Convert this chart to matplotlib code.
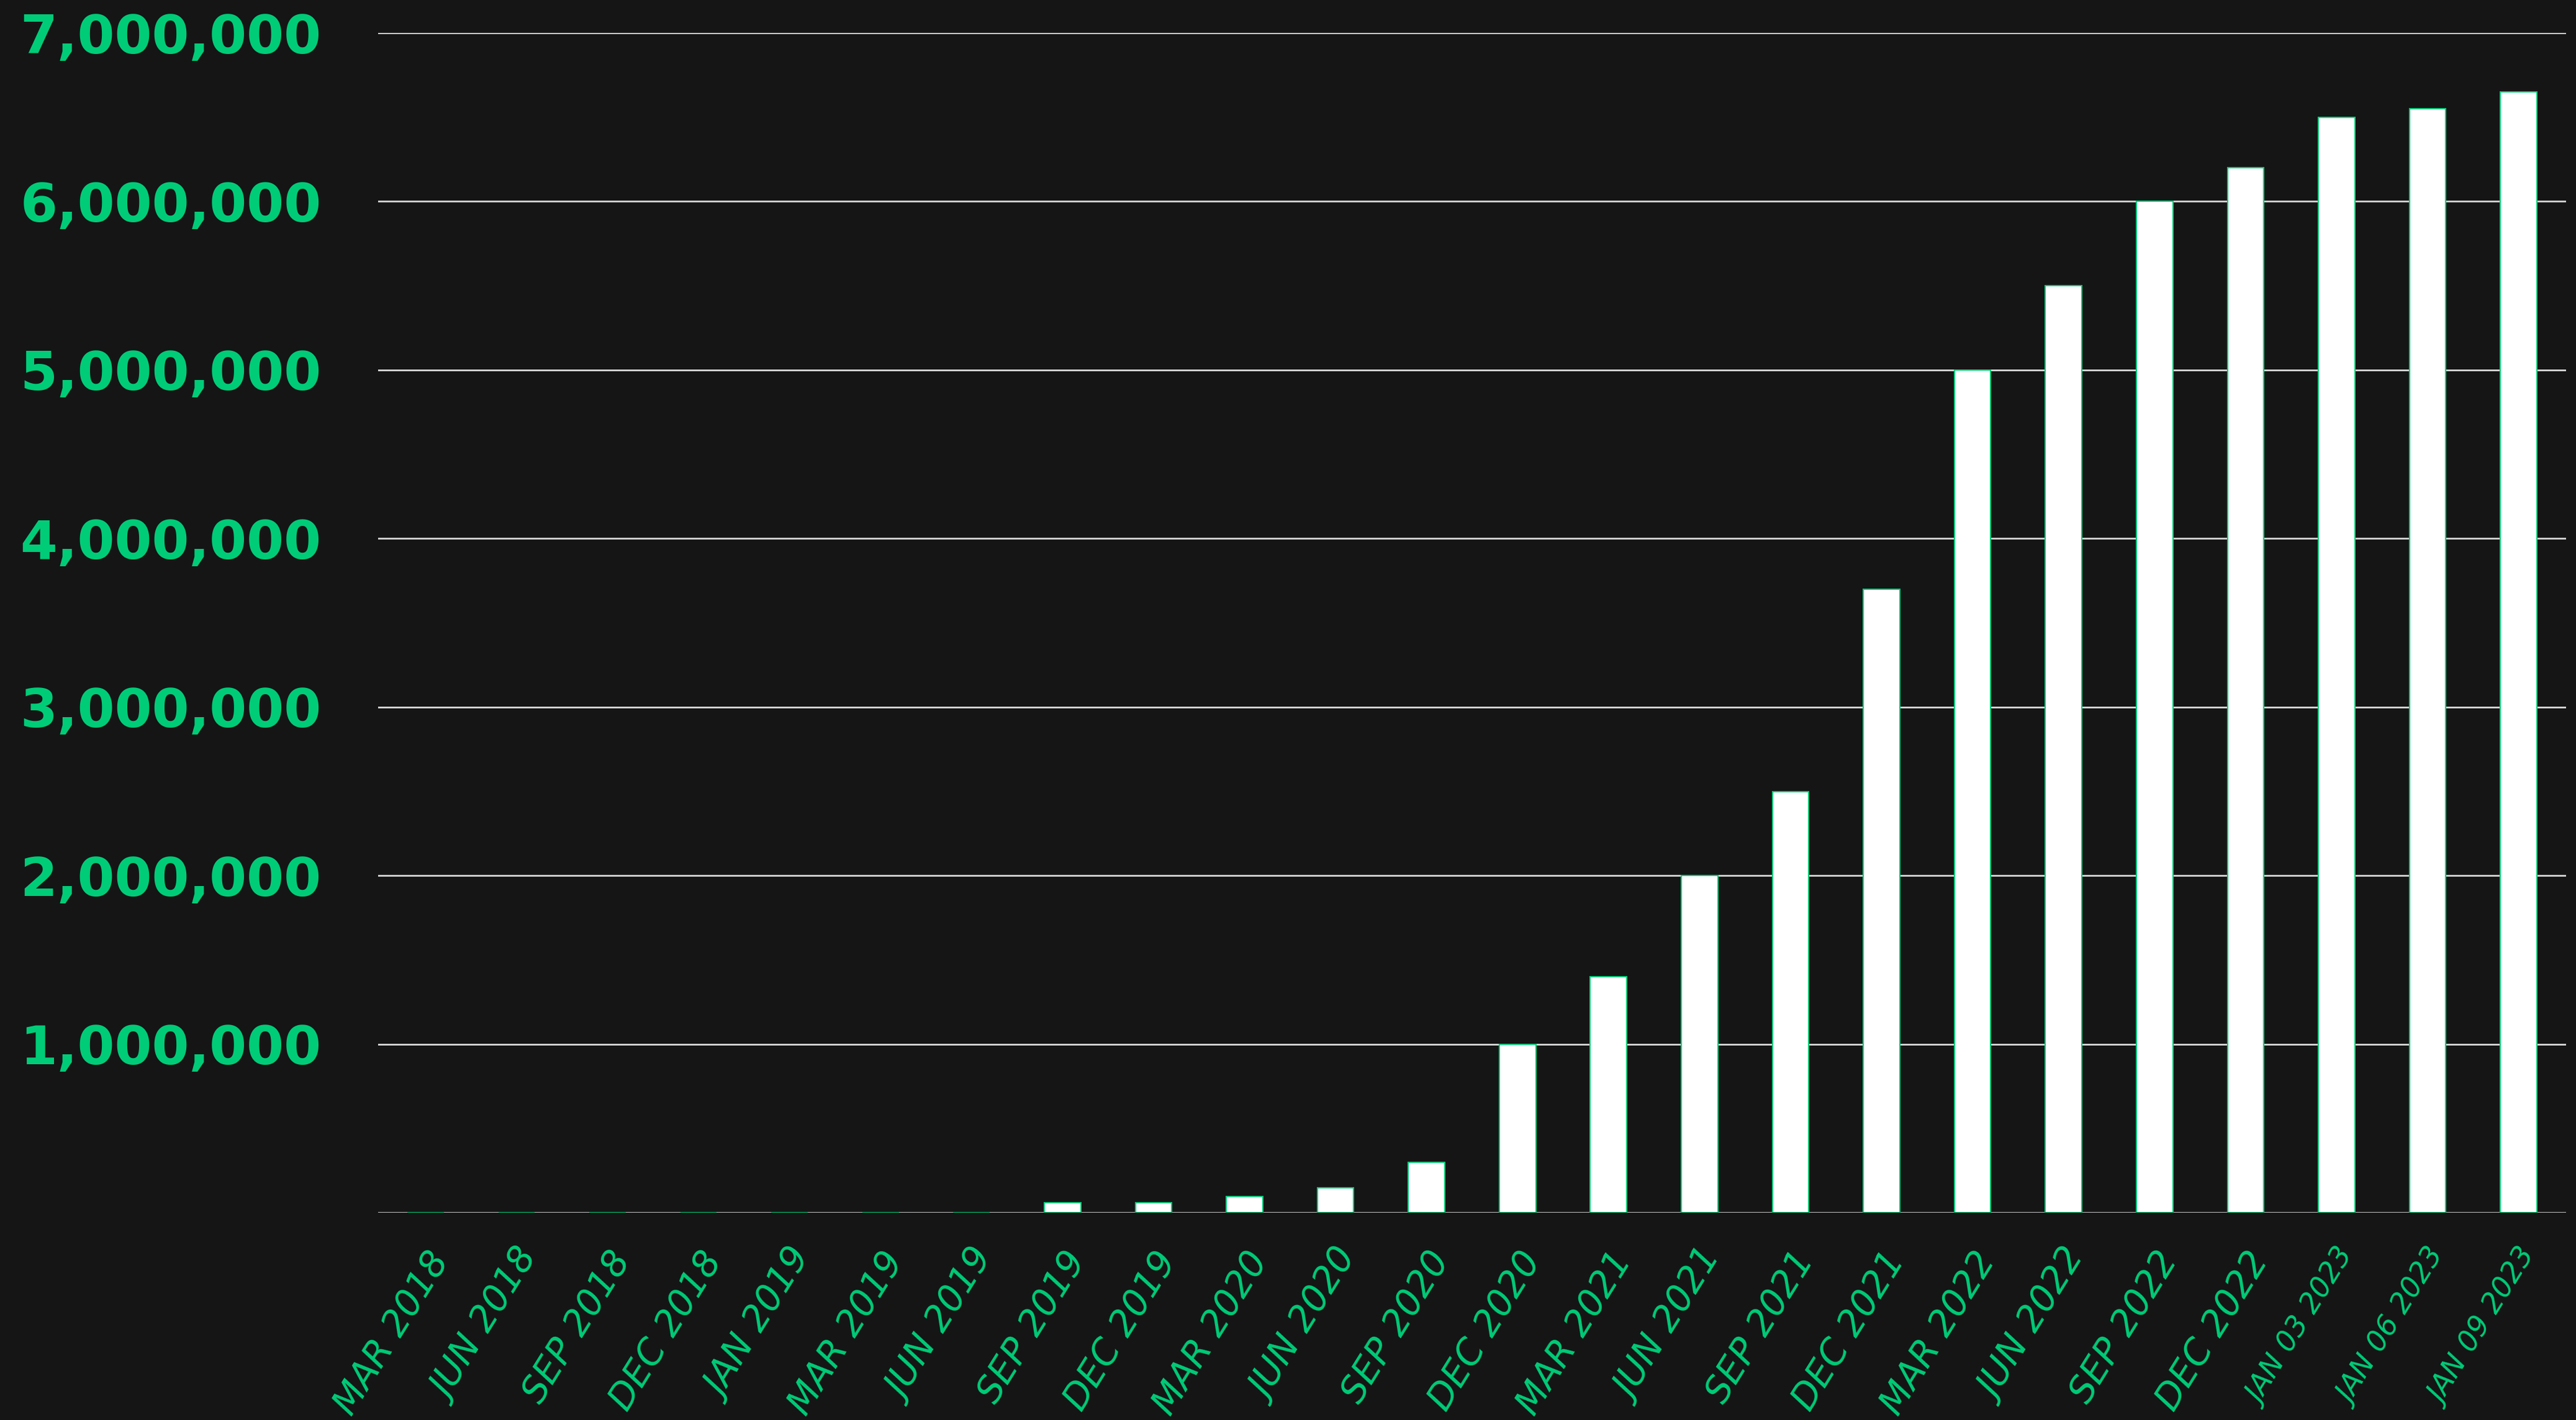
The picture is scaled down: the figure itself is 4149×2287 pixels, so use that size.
import matplotlib
matplotlib.use("Agg")
import matplotlib.pyplot as plt

# Data
months = ["MAR 2018", "JUN 2018", "SEP 2018", "DEC 2018", "JAN 2019", "MAR 2019",
          "JUN 2019", "SEP 2019", "DEC 2019", "MAR 2020", "JUN 2020", "SEP 2020",
          "DEC 2020", "MAR 2021", "JUN 2021", "SEP 2021", "DEC 2021", "MAR 2022",
          "JUN 2022", "SEP 2022", "DEC 2022", "JAN 03 2023", "JAN 06 2023", "JAN 09 2023"]
values = [0, 0, 0, 0, 0, 0,
          0, 58000, 61000, 97000, 146000, 297000,
          1000000, 1400000, 2000000, 2500000, 3700000, 5000000,
          5500000, 6000000, 6200000, 6500000, 6550000, 6650000]

y_ticks = [0, 1000000, 2000000, 3000000, 4000000, 5000000, 6000000, 7000000]
y_labels = ["", "1,000,000", "2,000,000", "3,000,000", "4,000,000",
            "5,000,000", "6,000,000", "7,000,000"]

bg = "#151515"
green = "#00cc78"

fig = plt.figure(figsize=(41.49, 22.87), dpi=100, facecolor=bg)
ax = fig.add_axes([0.1468, 0.146, 0.9961 - 0.1468, 0.9768 - 0.146])
ax.set_facecolor(bg)

x = list(range(len(months)))
ax.bar(x, values, width=0.4, color="white", edgecolor=green, linewidth=1.5, zorder=3)

ax.set_ylim(0, 7000000)
ax.set_xlim(-0.52, len(months) - 0.48)

# y labels, left aligned near the figure edge
ax.set_yticks(y_ticks)
ax.set_yticklabels(y_labels, fontsize=62, fontweight="bold", color=green)
ax.tick_params(axis="y", length=0, pad=415)
for lab in ax.get_yticklabels():
    lab.set_ha("left")

# slanted month labels
ax.set_xticks(x)
ax.set_xticklabels(months, rotation=58, ha="right", va="top",
                   rotation_mode="anchor", fontsize=42, color=green, style="italic")
for lab in ax.get_xticklabels()[-3:]:
    lab.set_fontsize(33)
ax.tick_params(axis="x", length=0, pad=38)

ax.grid(axis="y", color="#d8d8d8", linewidth=2, zorder=1)
for s in ax.spines.values():
    s.set_visible(False)

fig.savefig("out.png", dpi=100, facecolor=bg)
